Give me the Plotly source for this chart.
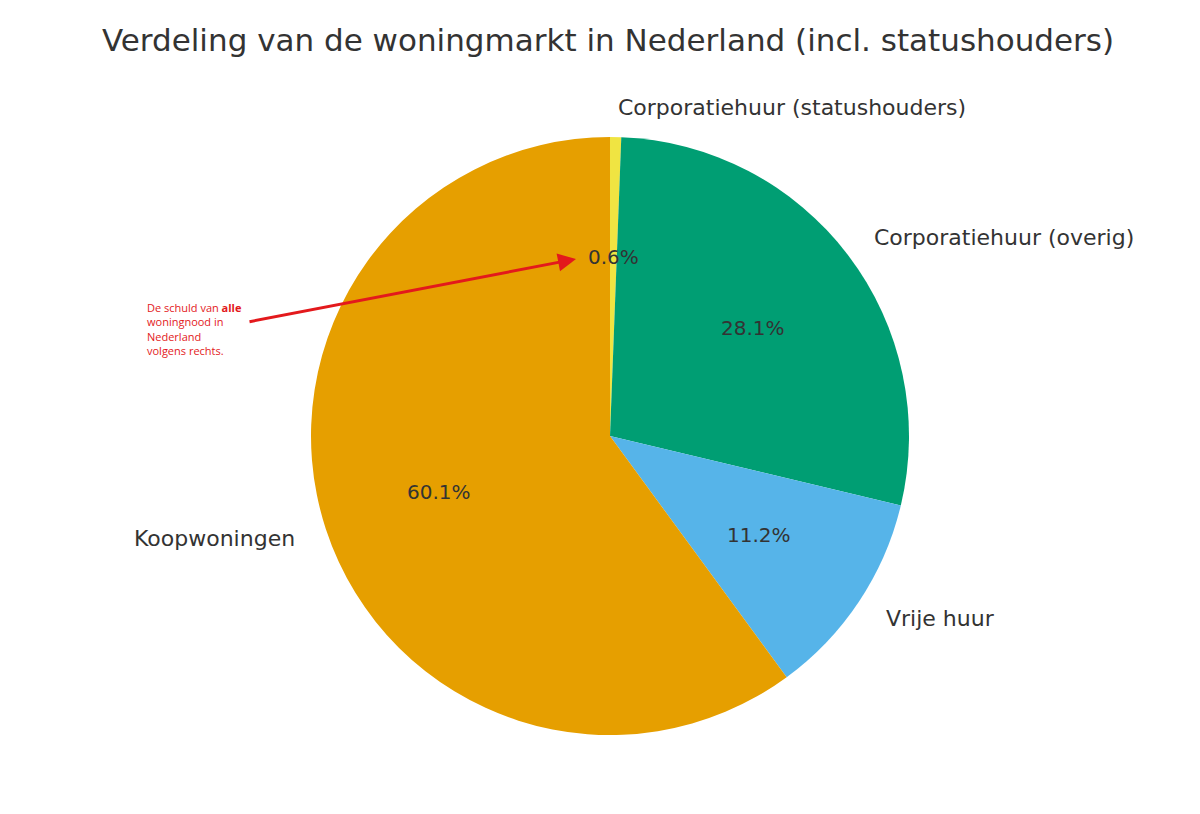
import math
import plotly.graph_objects as go

labels = ["Corporatiehuur (statushouders)", "Corporatiehuur (overig)", "Vrije huur", "Koopwoningen"]
values = [0.6, 28.1, 11.2, 60.0]
colors = ["#F0E442", "#009E73", "#56B4E9", "#E69F00"]

W, H = 1200, 814
cx, cy, R = 602, 428, 299

fig = go.Figure(go.Pie(
    labels=labels, values=values, sort=False, direction="clockwise", rotation=0,
    marker=dict(colors=colors, line=dict(width=0)), textinfo="none", hoverinfo="label+percent",
    domain=dict(x=[(cx - R) / W, (cx + R) / W], y=[1 - (cy + R) / H, 1 - (cy - R) / H]),
    showlegend=False,
))

ann = []
total = sum(values)
cum = 0
for lab, v in zip(labels, values):
    mid = (cum + v / 2) / total * 2 * math.pi
    cum += v
    sx, sy = math.sin(mid), math.cos(mid)
    lx, ly = cx + 1.1 * R * sx, cy - 1.1 * R * sy
    ann.append(dict(x=lx / W, y=1 - ly / H, xref="paper", yref="paper", text=lab, showarrow=False,
                    xanchor="left" if sx > 0 else "right", yanchor="middle",
                    font=dict(size=22, color="#333333")))
    px, py = cx + 0.6 * R * sx, cy - 0.6 * R * sy
    ann.append(dict(x=px / W, y=1 - py / H, xref="paper", yref="paper", text=f"{v / total * 100:.1f}%",
                    showarrow=False, xanchor="center", yanchor="middle",
                    font=dict(size=20, color="#333333")))

ann.append(dict(x=568 / W, y=1 - 251 / H, xref="paper", yref="paper", ax=240 - 568, ay=314 - 251,
                axref="pixel", ayref="pixel", text="", showarrow=True, arrowhead=2, arrowsize=1.2,
                arrowwidth=3, arrowcolor="#E3191C"))
ann.append(dict(x=137 / W, y=1 - 290 / H, xref="paper", yref="paper", showarrow=False,
                xanchor="left", yanchor="top", align="left",
                text="De schuld van <b>alle</b><br>woningnood in<br>Nederland<br>volgens rechts.",
                font=dict(size=11, color="#E3191C", family="Open Sans")))

fig.update_layout(
    width=W, height=H, margin=dict(l=0, r=0, t=0, b=0),
    paper_bgcolor="white", plot_bgcolor="white",
    font=dict(family="DejaVu Sans", color="#333333"),
    title=dict(text="Verdeling van de woningmarkt in Nederland (incl. statushouders)",
               x=0.5, xanchor="center", y=1 - 32 / H, yanchor="middle",
               font=dict(size=31, color="#333333")),
    annotations=ann,
)
fig.write_html("out.html")
